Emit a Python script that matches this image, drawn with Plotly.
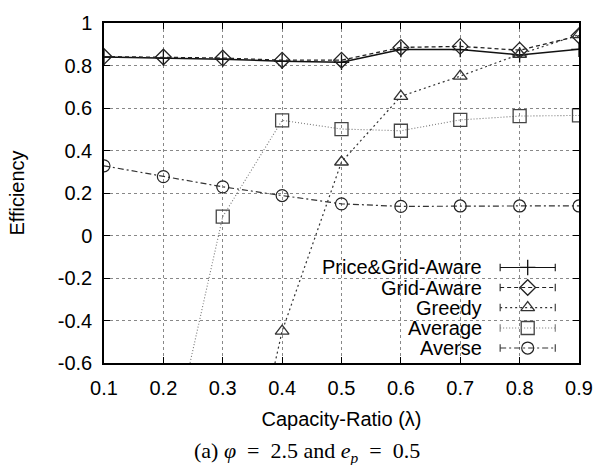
import plotly.graph_objects as go

# ---- data ----
capacity_ratio = [0.1, 0.2, 0.3, 0.4, 0.5, 0.6, 0.7, 0.8, 0.9]
price_grid_aware = [0.84, 0.835, 0.83, 0.82, 0.815, 0.875, 0.875, 0.85, 0.876]
grid_aware = [0.842, 0.84, 0.835, 0.825, 0.825, 0.885, 0.89, 0.872, 0.94]
greedy = [-3.0, -2.4, -1.70, -0.45, 0.346, 0.655, 0.75, 0.853, 0.945]
average = [-2.2, -1.16, 0.089, 0.542, 0.501, 0.493, 0.544, 0.562, 0.565]
averse = [0.328, 0.277, 0.229, 0.188, 0.149, 0.137, 0.139, 0.139, 0.139]

series_names = ["Price&Grid-Aware", "Grid-Aware", "Greedy", "Average", "Averse"]
series_values = [price_grid_aware, grid_aware, greedy, average, averse]

x_ticks = [0.1, 0.2, 0.3, 0.4, 0.5, 0.6, 0.7, 0.8, 0.9]
y_ticks = [-0.6, -0.4, -0.2, 0, 0.2, 0.4, 0.6, 0.8, 1]
y_tick_labels = ["-0.6", "-0.4", "-0.2", "0", "0.2", "0.4", "0.6", "0.8", "1"]

# ---- styles ----
styles = [
    dict(line=dict(color="#111111", width=1.5, dash="solid"),
         marker=dict(symbol="cross-thin-open", size=11, color="#111111", line=dict(color="#111111", width=1.3))),
    dict(line=dict(color="#222222", width=1.3, dash="4px,3px"),
         marker=dict(symbol="diamond-open", size=12, color="#222222", line=dict(color="#222222", width=1.3))),
    dict(line=dict(color="#333333", width=1.2, dash="2px,3px"),
         marker=dict(symbol="triangle-up-open", size=12, color="#333333", line=dict(color="#333333", width=1.3))),
    dict(line=dict(color="#777777", width=1.1, dash="1px,2px"),
         marker=dict(symbol="square-open", size=13, color="#444444", line=dict(color="#444444", width=1.3))),
    dict(line=dict(color="#333333", width=1.2, dash="6px,3px,2px,3px"),
         marker=dict(symbol="circle-open", size=12, color="#222222", line=dict(color="#222222", width=1.2))),
]

FONT = "Liberation Sans, Arial, sans-serif"
FS = 20

fig = go.Figure()

for name, vals, st in zip(series_names, series_values, styles):
    fig.add_trace(go.Scatter(
        x=capacity_ratio, y=vals, mode="lines+markers", name=name,
        line=st["line"], marker=st["marker"], cliponaxis=True, showlegend=False,
    ))

# ---- manual gnuplot-style legend (text left, sample right) ----
L_X0, L_X1 = 0.834, 0.950   # sample line extent (paper coords)
row_y = [0.281, 0.222, 0.163, 0.103, 0.044]
for name, st, ry in zip(series_names, styles, row_y):
    fig.add_shape(type="line", xref="paper", yref="paper", x0=L_X0, x1=L_X1, y0=ry, y1=ry,
                  line=dict(color=st["line"]["color"], width=1.1, dash=st["line"]["dash"]), layer="above")
    for xe in (L_X0, L_X1):
        fig.add_shape(type="line", xref="paper", yref="paper", x0=xe, x1=xe, y0=ry - 0.011, y1=ry + 0.011,
                      line=dict(color=st["line"]["color"], width=1.1), layer="above")
    fig.add_annotation(xref="paper", yref="paper", x=0.800, y=ry, text=name, showarrow=False,
                       xanchor="right", yanchor="middle", font=dict(family=FONT, size=FS, color="black"))

# legend marker samples on an overlay axis in paper-like coords
for st, ry in zip(styles, row_y):
    fig.add_trace(go.Scatter(x=[(L_X0 + L_X1) / 2], y=[ry], mode="markers", xaxis="x2", yaxis="y2",
                             marker=st["marker"], showlegend=False, hoverinfo="skip"))

# opaque key background (covers gridlines only)
fig.add_shape(type="rect", xref="paper", yref="paper", x0=0.395, x1=0.971, y0=0.0, y1=0.312,
              fillcolor="white", line=dict(width=0), layer="between")

fig.update_layout(
    width=605, height=465,
    margin=dict(l=104, r=18, t=14, b=102),
    paper_bgcolor="white", plot_bgcolor="white",
    font=dict(family=FONT, size=FS, color="black"),
    xaxis=dict(
        range=[0.1, 0.9], tickvals=x_ticks, ticktext=[f"{v:.1f}" for v in x_ticks],
        ticks="inside", ticklen=6, tickcolor="black", mirror="ticks",
        showline=True, linecolor="black", linewidth=1.5,
        showgrid=True, gridcolor="#888888", griddash="dot", gridwidth=1,
        zeroline=False, tickfont=dict(size=FS), ticklabelstandoff=6,
        title=dict(text="Capacity-Ratio (λ)", font=dict(size=FS), standoff=14),
    ),
    yaxis=dict(
        range=[-0.6, 1], tickvals=y_ticks, ticktext=y_tick_labels,
        ticks="inside", ticklen=6, tickcolor="black", mirror="ticks",
        showline=True, linecolor="black", linewidth=1.5,
        showgrid=True, gridcolor="#888888", griddash="dot", gridwidth=1,
        zeroline=False, tickfont=dict(size=FS), ticklabelstandoff=6,
        title=dict(text="Efficiency", font=dict(size=FS), standoff=28),
    ),
    xaxis2=dict(overlaying="x", range=[0, 1], visible=False, fixedrange=True),
    yaxis2=dict(overlaying="y", range=[0, 1], visible=False, fixedrange=True),
)

fig.add_annotation(xref="paper", yref="paper", x=(310 - 104) / 483, y=-(454 - 363) / 349,
                   text="(a) <i>φ</i>&nbsp; =&nbsp; 2.5 and <i>e<sub>p</sub></i>&nbsp; =&nbsp; 0.5",
                   showarrow=False, xanchor="center", yanchor="middle",
                   font=dict(family="Liberation Serif, DejaVu Serif, serif", size=22, color="black"))

fig.write_html("out.html")
